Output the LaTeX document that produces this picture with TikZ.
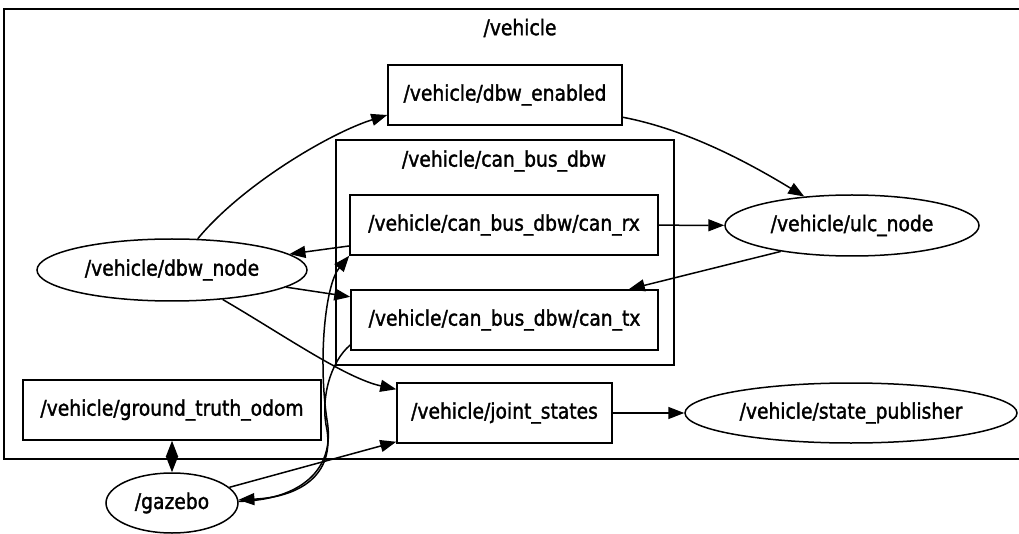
\documentclass[tikz,border=0pt]{standalone}
\usepackage{fontspec}
\setmainfont{DejaVu Sans}[FakeStretch=0.87, FakeBold=1.5]
\usetikzlibrary{arrows.meta,shapes.geometric}

\begin{document}
\begin{tikzpicture}[
  x=1pt, y=-1pt,
  every node/.style={font=\fontsize{21.5}{24}\selectfont},
  topic/.style={draw, rectangle, line width=1.5pt, inner sep=0pt},
  rosnode/.style={draw, ellipse, line width=1.5pt, inner sep=0pt},
  cluster/.style={draw, line width=1.5pt},
  link/.style={line width=1.5pt, -{Triangle[length=16pt,width=12pt]}},
  title/.style={inner sep=0pt}
]
% canvas
\fill[white] (0,0) rectangle (1019,534);
\useasboundingbox (0,0) rectangle (1019,534);

% clusters
\draw[cluster] (4,9) rectangle (1035,459);
\node[title] (vehicletitle) at (520,28) {/vehicle};
\draw[cluster] (336,140) rectangle (674,365);
\node[title] (canbustitle) at (504,161) {/vehicle/can\_bus\_dbw};

% topics
\node[topic, minimum width=234pt, minimum height=60pt] (enabled) at (505,95) {/vehicle/dbw\_enabled};
\node[topic, minimum width=308pt, minimum height=60pt] (canrx) at (504,225) {/vehicle/can\_bus\_dbw/can\_rx};
\node[topic, minimum width=307pt, minimum height=60pt] (cantx) at (504.5,320) {/vehicle/can\_bus\_dbw/can\_tx};
\node[topic, minimum width=298pt, minimum height=60pt] (gto) at (172,410) {/vehicle/ground\_truth\_odom};
\node[topic, minimum width=215pt, minimum height=60pt] (joint) at (504.5,413) {/vehicle/joint\_states};

% ROS nodes
\node[rosnode, minimum width=270pt, minimum height=62pt] (dbw) at (172,270) {/vehicle/dbw\_node};
\node[rosnode, minimum width=254pt, minimum height=61pt] (ulc) at (852,225.5) {/vehicle/ulc\_node};
\node[rosnode, minimum width=332pt, minimum height=60pt] (statepub) at (851,413) {/vehicle/state\_publisher};
\node[rosnode, minimum width=132pt, minimum height=60pt] (gazebo) at (172,503) {/gazebo};

% connectors
\draw[link] (dbw) .. controls (242,185) and (330,133) .. ([yshift=-20pt]enabled.west);
\draw[link] (enabled) .. controls (690,130) and (754,166) .. (ulc);
\draw[link] (canrx) -- (ulc);
\draw[link] (ulc.200) -- ([xshift=-30pt]cantx.north east);
\draw[link] (canrx) -- (dbw);
\draw[link] (dbw) -- (cantx);
\draw[link] (dbw) .. controls (282,334) and (345,378) .. (joint);
\draw[link] (gazebo) -- ([yshift=2pt]joint.south west);
\draw[link] (joint) -- (statepub);
\draw[line width=1.5pt, {Triangle[length=16pt,width=12pt]}-{Triangle[length=16pt,width=12pt]}] (gto) -- (gazebo);
\draw[link] ([yshift=-25pt]cantx.west) .. controls (330,362) and (320,400) .. (327,430)
  .. controls (334,475) and (300,497) .. (gazebo);
\draw[link] (gazebo) .. controls (300,500) and (336,470) .. (327,420)
  .. controls (318,360) and (325,285) .. (canrx.south west);
\end{tikzpicture}
\end{document}
